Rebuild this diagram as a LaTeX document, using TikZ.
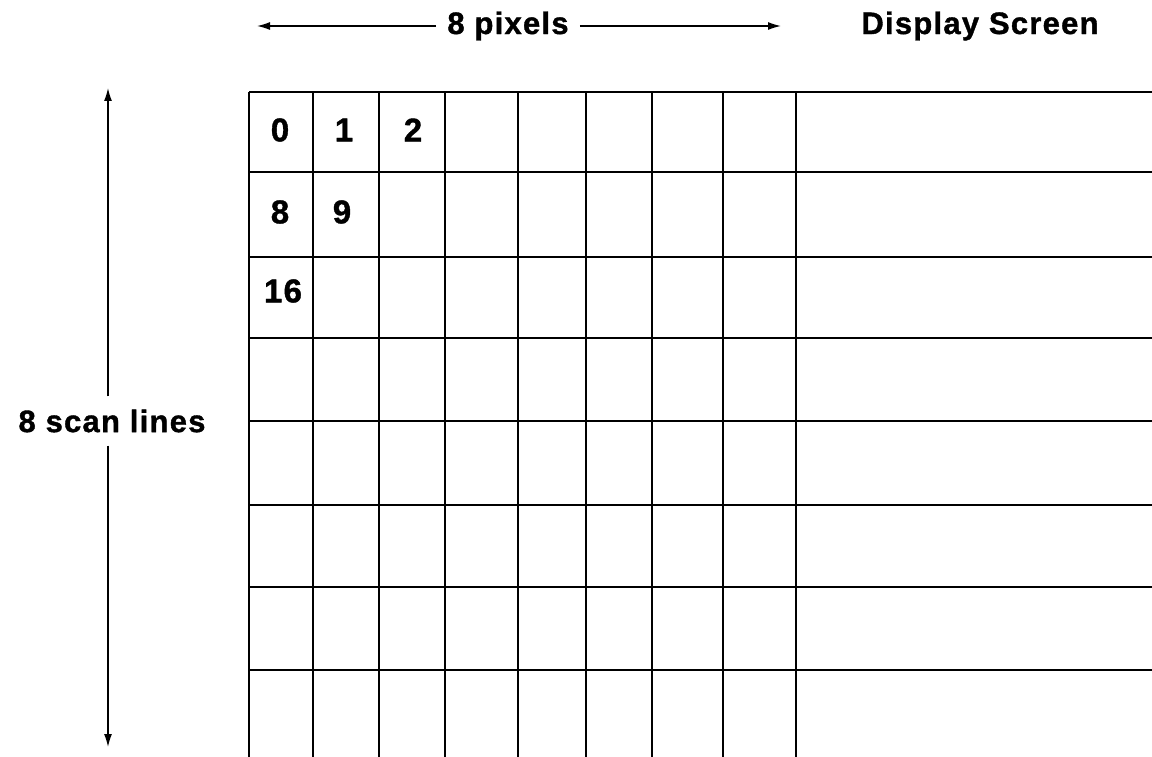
\documentclass[tikz,border=0pt]{standalone}
\usepackage{fontspec}
\setmainfont{Liberation Sans}[LetterSpace=4, BoldFeatures={FakeBold=1.2}]
\usetikzlibrary{arrows.meta}
\begin{document}
\begin{tikzpicture}[x=1pt,y=-1pt,
  lbl/.style={font=\bfseries\fontsize{31}{31}\selectfont, inner xsep=11pt, inner ysep=13pt},
  num/.style={font=\bfseries\fontsize{33}{33}\selectfont, inner sep=0pt},
  gridline/.style={line width=1.3pt},
  dimarrow/.style={line width=1.3pt, -{Latex[length=13pt,width=8pt]}}]
\useasboundingbox (0,0) rectangle (1152,757);
% grid
\foreach \x in {249,313,379,445,518,586,652,723,796}
  \draw[gridline] (\x,92) -- (\x,757);
\foreach \y in {92,172,257,338,421,505,587,670}
  \draw[gridline] (249,\y) -- (1152,\y);
% cell numbers
\node[num] (n0) at (280,130) {0};
\node[num] (n1) at (344,130) {1};
\node[num] (n2) at (413,130) {2};
\node[num] (n8) at (280,212) {8};
\node[num] (n9) at (342,212) {9};
\node[num] (n16) at (283,291) {16};
% labels
\node[lbl] (px) at (508,26) {8 pixels};
\node[lbl] (ds) at (980,26) {Display Screen};
\node[lbl] (sl) at (112,421) {8 scan lines};
\coordinate (pl) at (257,26);
\coordinate (pr) at (781,26);
\coordinate (st) at (108,88);
\coordinate (sb) at (108,747);
\draw[dimarrow] (px.west) -- (pl);
\draw[dimarrow] (px.east) -- (pr);
\draw[dimarrow] (sl.north -| st) -- (st);
\draw[dimarrow] (sl.south -| sb) -- (sb);
\end{tikzpicture}
\end{document}
